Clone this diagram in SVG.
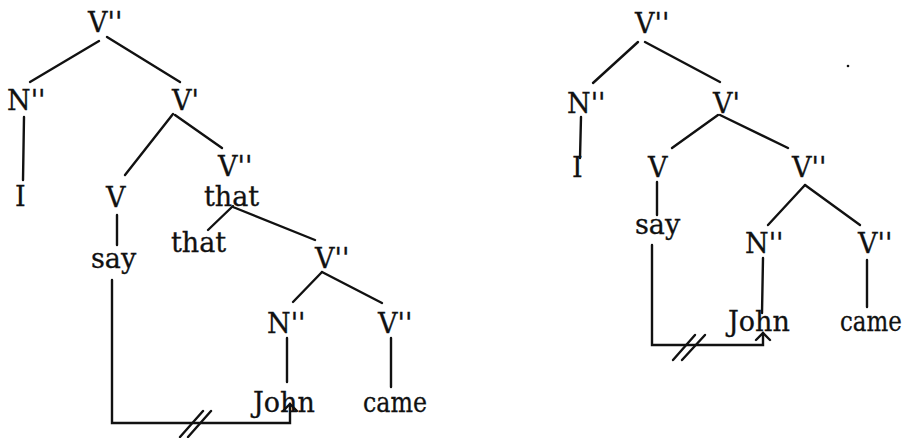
<svg xmlns="http://www.w3.org/2000/svg" width="903" height="438" viewBox="0 0 903 438">
<style>
text{font-family:"DejaVu Serif","Liberation Serif",serif;font-size:27px;fill:#111;stroke:#111;stroke-width:0.3}
.c line,.c polyline{stroke:#111;stroke-width:2.4;fill:none;stroke-linecap:round}
</style>
<rect width="903" height="438" fill="#fff"/>
<g id="left-tree">
<g id="l-vpp1"><text x="88" y="32">V''</text></g>
<g id="l-npp1"><text x="7" y="110">N''</text></g>
<g id="l-vp1"><text x="172" y="110">V'</text></g>
<g id="l-i"><text x="15" y="206">I</text></g>
<g id="l-v"><text x="106" y="207">V</text></g>
<g id="l-vpp2"><text x="218" y="176">V''</text></g>
<g id="l-that1"><text x="204" y="206">that</text></g>
<g id="l-say"><text x="91" y="268">say</text></g>
<g id="l-that2"><text x="171" y="252">that</text></g>
<g id="l-vpp3"><text x="315" y="268">V''</text></g>
<g id="l-npp2"><text x="267" y="333">N''</text></g>
<g id="l-vpp4"><text x="378" y="333">V''</text></g>
<g id="l-john"><text x="253" y="412">John</text></g>
<g id="l-came"><text transform="translate(363,412) scale(0.88,1)">came</text></g>
</g>
<g id="right-tree">
<g id="r-vpp1"><text x="635" y="33">V''</text></g>
<g id="r-npp1"><text x="567" y="113">N''</text></g>
<g id="r-vp1"><text x="713" y="113">V'</text></g>
<g id="r-i"><text x="572" y="177">I</text></g>
<g id="r-v"><text x="648" y="177">V</text></g>
<g id="r-vpp2"><text x="792" y="177">V''</text></g>
<g id="r-say"><text x="635" y="234">say</text></g>
<g id="r-npp2"><text x="745" y="253">N''</text></g>
<g id="r-vpp3"><text x="858" y="253">V''</text></g>
<g id="r-john"><text x="728" y="331">John</text></g>
<g id="r-came"><text transform="translate(840,331) scale(0.85,1)">came</text></g>
<circle cx="848" cy="66" r="1.3" fill="#111"/>
</g>
<g id="connectors" class="c">
<line x1="99" y1="41" x2="30" y2="82"/>
<line x1="107" y1="37" x2="180" y2="82"/>
<line x1="24" y1="117" x2="23" y2="180"/>
<line x1="173" y1="114" x2="125" y2="175"/>
<line x1="175" y1="115" x2="222" y2="148"/>
<line x1="117" y1="215" x2="117" y2="245"/>
<line x1="233" y1="206" x2="208" y2="230"/>
<line x1="233" y1="207" x2="315" y2="240"/>
<line x1="322" y1="272" x2="293" y2="302"/>
<line x1="322" y1="272" x2="382" y2="303"/>
<line x1="287" y1="338" x2="287" y2="382"/>
<line x1="391" y1="338" x2="391" y2="387"/>
<polyline points="112,280 112,423 290,423 290,404"/>
<polyline points="283,411 290,404 297,411"/>
<line x1="180" y1="437" x2="203" y2="411"/>
<line x1="188" y1="437" x2="211" y2="411"/>
<line x1="638" y1="42" x2="593" y2="83"/>
<line x1="645" y1="42" x2="720" y2="82"/>
<line x1="581" y1="117" x2="580" y2="158"/>
<line x1="718" y1="115" x2="672" y2="148"/>
<line x1="720" y1="115" x2="788" y2="148"/>
<line x1="657" y1="182" x2="657" y2="215"/>
<line x1="805" y1="185" x2="768" y2="225"/>
<line x1="805" y1="185" x2="860" y2="225"/>
<line x1="763" y1="258" x2="762" y2="313"/>
<line x1="867" y1="260" x2="867" y2="307"/>
<polyline points="652,245 652,345 763,345 763,333"/>
<polyline points="756,340 763,333 770,340"/>
<line x1="673" y1="360" x2="695" y2="335"/>
<line x1="682" y1="360" x2="705" y2="335"/>
</g>
</svg>
